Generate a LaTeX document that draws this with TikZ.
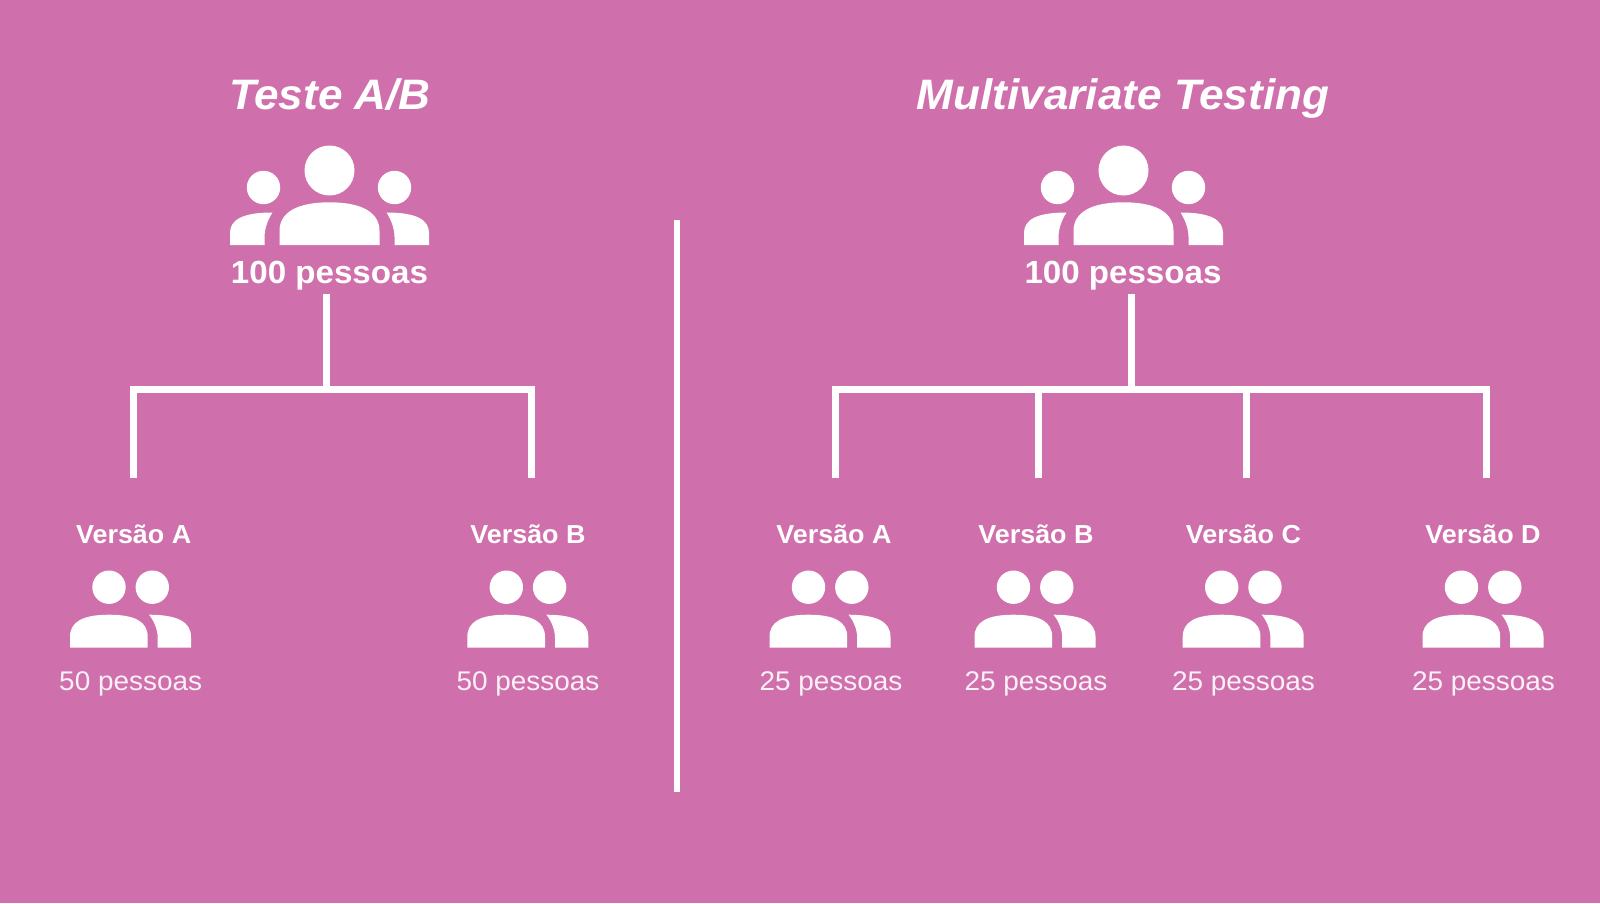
\documentclass[tikz,border=0pt]{standalone}
\usepackage{fontspec}
\setmainfont{Liberation Sans}
\newfontfamily\widefont[FakeStretch=1.035]{Liberation Sans}
\definecolor{bgpink}{HTML}{CF70AC}
\definecolor{lighttext}{HTML}{FBF0F7}
\newcommand{\fsz}[1]{\fontsize{#1}{#1}\selectfont}
\tikzset{
  x=1pt,y=-1pt,
  titletext/.style={text=white,anchor=base,inner sep=0pt,font=\widefont\fsz{42.6}\bfseries\itshape},
  totaltext/.style={text=white,anchor=base,inner sep=0pt,font=\widefont\fsz{32}\bfseries},
  versiontext/.style={text=white,anchor=base,inner sep=0pt,font=\widefont\fsz{26}\bfseries},
  counttext/.style={text=lighttext,anchor=base,inner sep=0pt,font=\widefont\fsz{27}},
  linkline/.style={draw=white,line width=7pt,line cap=butt,line join=miter},
  pics/groupbig/.style={code={
    \fill[white] (99.5,-74.5) circle[radius=25];
    \fill[white] (33.5,-57.5) circle[radius=16.7];
    \fill[white] (164.5,-57.5) circle[radius=16.7];
    \fill[white] (49.5,0) -- (49.5,-14) .. controls (49.5,-32) and (66,-42.7) .. (99.5,-42.7)
      .. controls (133,-42.7) and (149.5,-32) .. (149.5,-14) -- (149.5,0) -- cycle;
    \fill[white] (0,0) -- (0,-12) .. controls (0,-25) and (12,-32.5) .. (42.5,-32.5)
      .. controls (37,-24) and (34.5,-15) .. (34.5,-8) -- (34.5,0) -- cycle;
    \fill[white] (199,0) -- (199,-12) .. controls (199,-25) and (187,-32.5) .. (156.5,-32.5)
      .. controls (162,-24) and (164.5,-15) .. (164.5,-8) -- (164.5,0) -- cycle;
  }},
  pics/groupsmall/.style={code={
    \fill[white] (39,-60.5) circle[radius=16.7];
    \fill[white] (82.3,-60.5) circle[radius=16.7];
    \fill[white] (0,0) -- (0,-11) .. controls (0,-26) and (13,-33) .. (39,-33)
      .. controls (65,-33) and (77.7,-26) .. (77.7,-11) -- (77.7,0) -- cycle;
    \fill[white] (79,-33) .. controls (107,-33) and (121,-26) .. (121,-11) -- (121,0)
      -- (87.7,0) -- (87.7,-10) .. controls (87.7,-18) and (84,-27) .. (79,-33) -- cycle;
  }},
}
\begin{document}
\begin{tikzpicture}[x=1pt,y=-1pt]
\useasboundingbox[fill=bgpink] (0,0) rectangle (1600,903);

% titles
\node[titletext] (titleA) at (330,109) {Teste A/B};
\node[titletext] (titleB) at (1123,109) {Multivariate Testing};

% big groups
\pic (bigA) at (230,245) {groupbig};
\pic (bigB) at (1024,245) {groupbig};
\node[totaltext] (totalA) at (329.5,283.3) {100 pessoas};
\node[totaltext] (totalB) at (1123,283.3) {100 pessoas};

% divider
\coordinate (divTop) at (677,220);
\coordinate (divBot) at (677,792);
\draw[linkline,line width=6pt] (divTop) -- (divBot);

% left tree
\coordinate (stemAtop) at (326.7,294);
\coordinate (stemAbot) at (326.7,389.7);
\coordinate (legAa) at (133.7,478);
\coordinate (legAb) at (531,478);
\draw[linkline] (legAa) |- (stemAbot) -| (legAb);
\draw[linkline] (stemAtop) -- (stemAbot);

% right tree
\coordinate (stemBtop) at (1131,294);
\coordinate (stemBbot) at (1131,389.7);
\coordinate (legBa) at (835,478);
\coordinate (legBb) at (1038,478);
\coordinate (legBc) at (1246.5,478);
\coordinate (legBd) at (1486,478);
\draw[linkline] (legBa) |- (stemBbot) -| (legBd);
\draw[linkline] (stemBtop) -- (stemBbot);
\draw[linkline] (legBb) -- (legBb |- stemBbot);
\draw[linkline] (legBc) -- (legBc |- stemBbot);

% small groups
\pic (sA) at (70,647.7) {groupsmall};
\pic (sB) at (467.3,647.7) {groupsmall};
\pic (sC) at (769.5,647.7) {groupsmall};
\pic (sD) at (974.5,647.7) {groupsmall};
\pic (sE) at (1182.7,647.7) {groupsmall};
\pic (sF) at (1422.5,647.7) {groupsmall};

\node[versiontext] (vA) at (133.7,543.3) {Versão A};
\node[versiontext] (vB) at (528,543.3) {Versão B};
\node[versiontext] (vC) at (834,543.3) {Versão A};
\node[versiontext] (vD) at (1036,543.3) {Versão B};
\node[versiontext] (vE) at (1243.5,543.3) {Versão C};
\node[versiontext] (vF) at (1483,543.3) {Versão D};

\node[counttext] (cA) at (130.7,690) {50 pessoas};
\node[counttext] (cB) at (528,690) {50 pessoas};
\node[counttext] (cC) at (831,690) {25 pessoas};
\node[counttext] (cD) at (1036,690) {25 pessoas};
\node[counttext] (cE) at (1243.5,690) {25 pessoas};
\node[counttext] (cF) at (1483.5,690) {25 pessoas};
\end{tikzpicture}
\end{document}
